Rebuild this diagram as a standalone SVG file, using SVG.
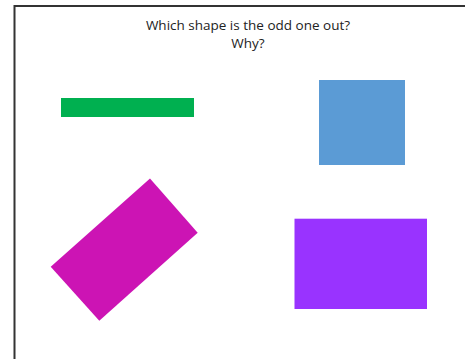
<svg xmlns="http://www.w3.org/2000/svg" width="465" height="359" viewBox="0 0 465 359">
<style>
.t{font-family:"Open Sans","Liberation Sans",sans-serif;font-size:13.5px;fill:#222;text-anchor:middle}
</style>
<rect width="465" height="359" fill="#fff"/>
<g id="frame"><path d="M14.5 359 V6 H465" fill="none" stroke="#333" stroke-width="2"/></g>
<g id="title">
<text class="t" x="248" y="30">Which shape is the odd one out?</text>
<text class="t" x="248" y="48">Why?</text>
</g>
<g id="green"><rect x="61" y="98" width="133" height="19" fill="#00B050"/></g>
<g id="blue"><rect x="319" y="80" width="86" height="85" fill="#5B9BD5"/></g>
<g id="magenta"><polygon points="150,178.5 197.7,232.7 99.3,320.7 50.7,266.7" fill="#CC14B4"/></g>
<g id="purple"><rect x="294.5" y="218.7" width="132.5" height="90.3" fill="#9933FF"/></g>
</svg>
